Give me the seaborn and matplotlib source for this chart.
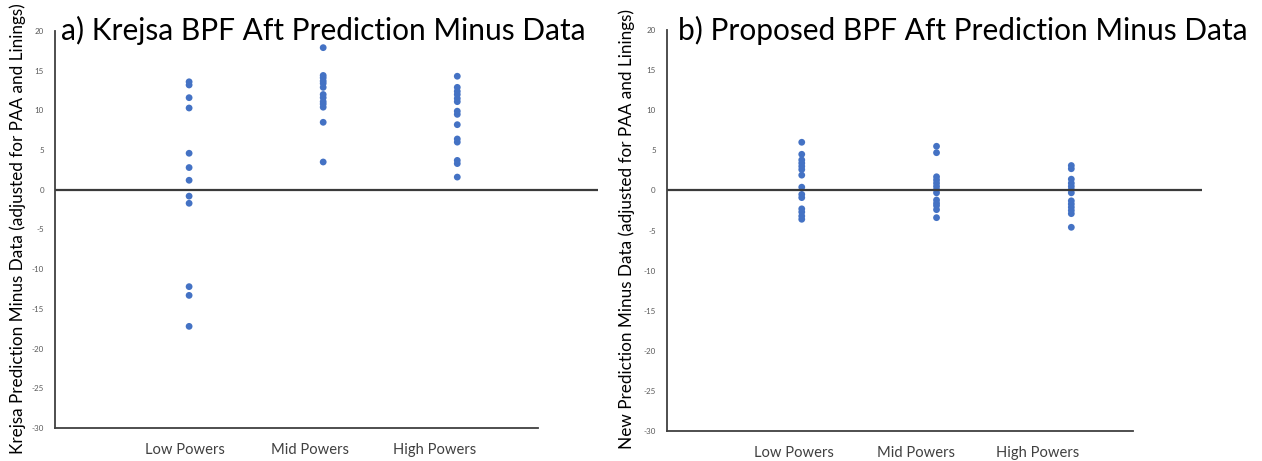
import pandas as pd
import matplotlib.pyplot as plt
import seaborn as sns

# categories and values
categories = ["Low Powers", "Mid Powers", "High Powers"]

krejsa_low = [13.6, 13.2, 11.6, 10.3, 4.6, 2.8, 1.2, -0.8, -1.7, -12.2, -13.3, -17.2]
krejsa_mid = [17.9, 14.4, 14.1, 13.7, 13.4, 12.9, 12.0, 11.6, 11.1, 10.8, 10.4, 8.5, 3.5]
krejsa_high = [14.3, 12.9, 12.4, 12.0, 11.5, 11.1, 9.9, 9.5, 8.2, 6.4, 6.0, 3.7, 3.3, 1.6]

new_low = [6.0, 4.5, 3.8, 3.4, 3.0, 2.6, 1.9, 0.4, -0.5, -0.9, -2.3, -2.7, -3.2, -3.6]
new_mid = [5.5, 4.7, 1.7, 1.3, 0.9, 0.5, 0.1, -0.3, -1.2, -1.6, -1.9, -2.4, -3.4]
new_high = [3.1, 2.7, 1.4, 0.9, 0.5, 0.1, -0.3, -1.3, -1.7, -2.1, -2.5, -2.9, -4.6]

y_ticks = [20, 15, 10, 5, 0, -5, -10, -15, -20, -25, -30]


def long_frame(groups):
    rows = []
    for i, (cat, vals) in enumerate(zip(categories, groups)):
        for v in vals:
            rows.append({"Category": cat, "pos": i + 1, "value": v})
    return pd.DataFrame(rows)


def generate():
    sns.set_theme(style="white")
    plt.rcParams["font.family"] = ["Lato", "DejaVu Sans"]

    fig = plt.figure(figsize=(12.62, 4.61), dpi=100)
    ax_a = fig.add_axes([0.0436, 0.0716, 0.4303, 0.8612])
    ax_b = fig.add_axes([0.5285, 0.065, 0.4240, 0.8700])

    panels = [
        (ax_a, long_frame([krejsa_low, krejsa_mid, krejsa_high]),
         "a) Krejsa BPF Aft Prediction Minus Data",
         "Krejsa Prediction Minus Data (adjusted for PAA and Linings)",
         [0.97, 1.90, 2.83], 4.05, 3.6, 0.048, 0.014),
        (ax_b, long_frame([new_low, new_mid, new_high]),
         "b) Proposed BPF Aft Prediction Minus Data",
         "New Prediction Minus Data (adjusted for PAA and Linings)",
         [0.94, 1.85, 2.75], 3.97, 3.46, 0.537, 0.497),
    ]

    for ax, df, title, ylabel, label_pos, xmax, bottom_end, title_x, ylab_x in panels:
        sns.scatterplot(data=df, x="pos", y="value", ax=ax, color="#4472C4",
                        s=24, edgecolor="none", legend=False)
        ax.set_xlim(0, xmax)
        ax.set_ylim(-30, 20)
        ax.axhline(0, color="#3a3a3a", linewidth=1.6, zorder=1)

        for side in ["top", "right"]:
            ax.spines[side].set_visible(False)
        ax.spines["left"].set_color("#404040")
        ax.spines["left"].set_linewidth(1.3)
        ax.spines["bottom"].set_color("#404040")
        ax.spines["bottom"].set_linewidth(1.3)
        ax.spines["bottom"].set_bounds(0, bottom_end)

        ax.set_yticks(y_ticks)
        ax.set_yticklabels([str(t) for t in y_ticks])
        ax.tick_params(axis="y", length=0, pad=8, labelsize=5.8, labelcolor="#595959")
        ax.set_xticks(label_pos)
        ax.set_xticklabels(categories)
        ax.tick_params(axis="x", length=0, pad=11, labelsize=10.6, labelcolor="#404040")
        ax.set_xlabel("")
        ax.set_ylabel("")
        ax.grid(False)

        fig.text(title_x, 0.935, title, fontsize=21.5, color="black",
                 ha="left", va="center")
        fig.text(ylab_x, 0.503, ylabel, rotation=90, fontsize=12.3, color="black",
                 ha="center", va="center")

    fig.savefig("out.png", dpi=100, facecolor="white")
    plt.close(fig)


if __name__ == "__main__":
    generate()
